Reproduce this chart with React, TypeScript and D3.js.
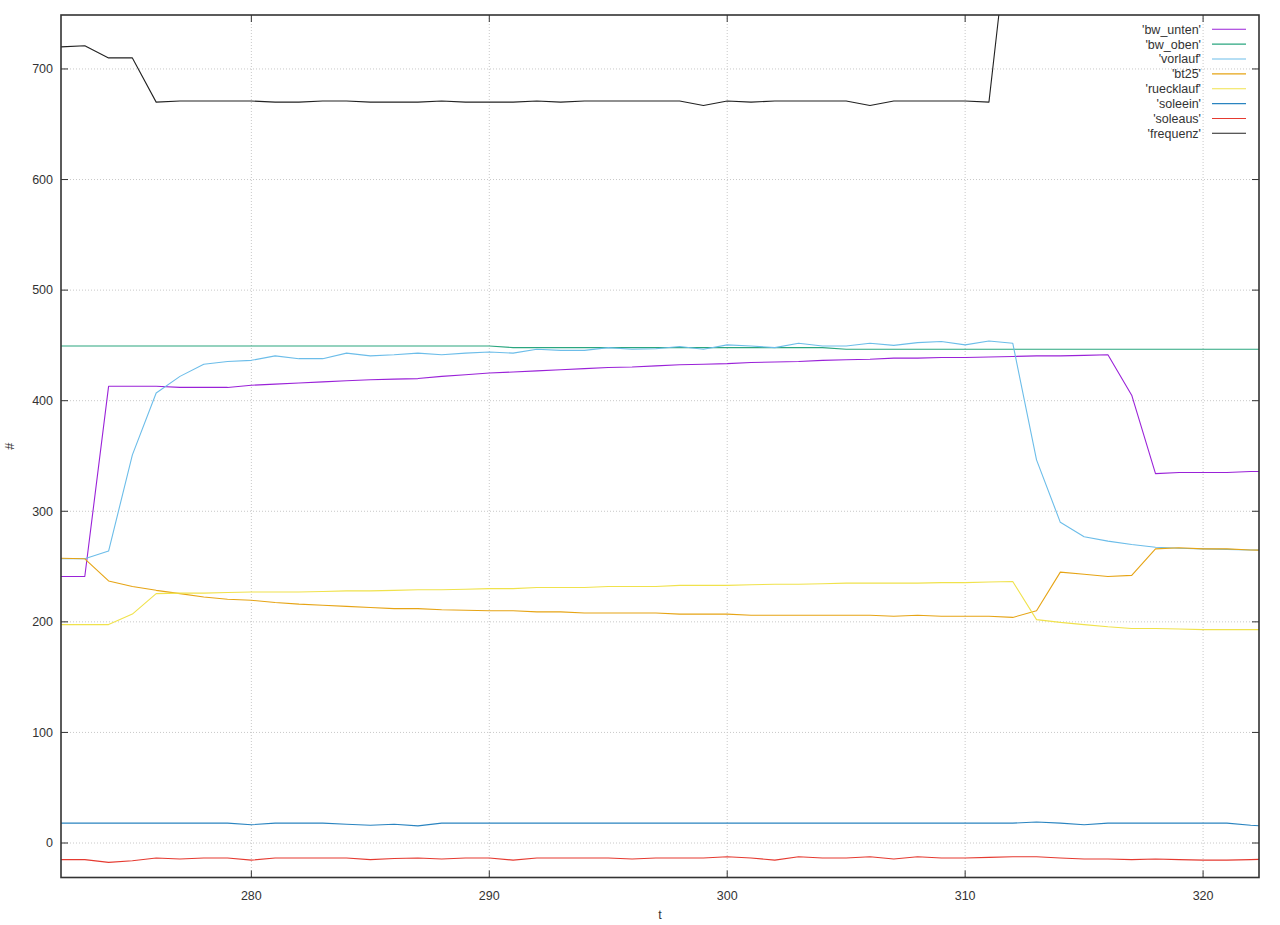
import * as d3 from 'd3';
import { useEffect } from 'react';

// sample times
const tValues = d3.range(272, 324);

const bwUnten = [
    241, 241, 413, 413, 413, 412, 412, 412, 414, 415, 416, 417, 418, 419, 419.5, 420, 422, 423.5, 425, 426, 427, 428, 429, 430,
    430.5, 431.5, 432.5, 433, 433.5, 434.5, 435, 435.5, 436.5, 437, 437.5, 438.5, 438.5, 439, 439, 439.5, 440, 440.5, 440.5, 441,
    441.5, 405, 334, 335, 335, 335, 336, 336,
];
const bwOben = [
    449.5, 449.5, 449.5, 449.5, 449.5, 449.5, 449.5, 449.5, 449.5, 449.5, 449.5, 449.5, 449.5, 449.5, 449.5, 449.5, 449.5, 449.5,
    449.5, 448, 448, 448, 448, 448, 448, 448, 448, 448, 448, 448, 448, 448, 448, 446.5, 446.5, 446.5, 446.5, 446.5, 446.5, 446.5,
    446.5, 446.5, 446.5, 446.5, 446.5, 446.5, 446.5, 446.5, 446.5, 446.5, 446.5, 446.5,
];
const vorlauf = [
    257, 257, 264, 351, 407, 422, 433, 435.5, 436.5, 440.5, 438, 438, 443, 440.5, 441.5, 443, 441.5, 443, 444, 443, 446.5, 445.5,
    445.5, 448, 446.5, 447, 449, 446.5, 450.5, 449.5, 448, 452, 449.5, 449.5, 452, 450, 452.5, 453.5, 450.5, 454, 452, 346.5, 290,
    277, 273, 270, 267.5, 266.5, 266, 265.5, 265, 265,
];
const bt25 = [
    257.5, 257, 237, 232, 228.5, 225.5, 222.5, 220.5, 219.5, 217.5, 216, 215, 214, 213, 212, 212, 211, 210.5, 210, 210, 209, 209,
    208, 208, 208, 208, 207, 207, 207, 206, 206, 206, 206, 206, 206, 205, 206, 205, 205, 205, 204, 210, 245, 243, 241, 242, 266,
    267, 266, 266, 265, 264.5,
];
const ruecklauf = [
    197.5, 197.5, 197.5, 207, 225.5, 226, 226, 226.5, 227, 227, 227, 227.5, 228, 228, 228.5, 229, 229, 229.5, 230, 230, 231, 231,
    231, 232, 232, 232, 233, 233, 233, 233.5, 234, 234, 234.5, 235, 235, 235, 235, 235.5, 235.5, 236, 236.5, 202, 199.5, 197.5,
    195.5, 194, 194, 193.5, 193, 193, 193, 193,
];
const soleein = [
    18, 18, 18, 18, 18, 18, 18, 18, 16.5, 18, 18, 18, 17, 16, 17, 15.5, 18, 18, 18, 18, 18, 18, 18, 18, 18, 18, 18, 18, 18, 18, 18,
    18, 18, 18, 18, 18, 18, 18, 18, 18, 18, 19, 18, 16.5, 18, 18, 18, 18, 18, 18, 16, 15,
];
const soleaus = [
    -15, -15, -17.5, -16, -13.5, -14.5, -13.5, -13.5, -15.5, -13.5, -13.5, -13.5, -13.5, -15, -14, -13.5, -14.5, -13.5, -13.5,
    -15.5, -13.5, -13.5, -13.5, -13.5, -14.5, -13.5, -13.5, -13.5, -12.5, -13.5, -15.5, -12.5, -13.5, -13.5, -12.5, -14.5, -12.5,
    -13.5, -13.5, -13, -12.5, -12.5, -13.5, -14.5, -14.5, -15, -14.5, -15, -15.5, -15.5, -15, -14.5,
];
const frequenz = [
    720, 721, 710, 710, 670, 671, 671, 671, 671, 670, 670, 671, 671, 670, 670, 670, 671, 670, 670, 670, 671, 670, 671, 671, 671,
    671, 671, 667, 671, 670, 671, 671, 671, 671, 667, 671, 671, 671, 671, 670, 860, 860, 860, 860, 860, 860, 860, 860, 860, 860,
    860, 860,
];

const seriesNames = ["'bw_unten'", "'bw_oben'", "'vorlauf'", "'bt25'", "'ruecklauf'", "'soleein'", "'soleaus'", "'frequenz'"];
const seriesValues = [bwUnten, bwOben, vorlauf, bt25, ruecklauf, soleein, soleaus, frequenz];
const colors = ['#9a22d8', '#2aa67f', '#6cbde9', '#e6a415', '#f0e24c', '#2a84c0', '#e53a30', '#222222'];

const xTicks = [280, 290, 300, 310, 320];
const yTicks = [0, 100, 200, 300, 400, 500, 600, 700];

const width = 1280;
const height = 925;
const margins = { left: 61, right: 21, top: 15, bottom: 47.5 };
const font = "'Liberation Sans', Arial, sans-serif";

export default function App() {
    useEffect(() => {
        document.body.style.margin = '0';
    }, []);

    const xScale = d3
        .scaleLinear()
        .domain([272, 322.35])
        .range([margins.left, width - margins.right]);
    const yScale = d3
        .scaleLinear()
        .domain([-31.2, 748.8])
        .range([height - margins.bottom, margins.top]);

    const x0 = margins.left;
    const x1 = width - margins.right;
    const y0 = height - margins.bottom;
    const y1 = margins.top;

    const line = d3
        .line<[number, number]>()
        .x((d) => xScale(d[0]))
        .y((d) => yScale(d[1]));

    return (
        <svg width={width} height={height} style={{ display: 'block', background: '#fff' }} fontFamily={font}>
            <defs>
                <clipPath id='plot'>
                    <rect x={x0} y={y1} width={x1 - x0} height={y0 - y1} />
                </clipPath>
            </defs>

            {/* grid */}
            {yTicks.map((v) => (
                <line key={'gy' + v} x1={x0} x2={x1} y1={yScale(v)} y2={yScale(v)} stroke='#c8c8c8' strokeDasharray='1,2' />
            ))}
            {xTicks.map((v) => (
                <line key={'gx' + v} x1={xScale(v)} x2={xScale(v)} y1={y1} y2={y0} stroke='#c8c8c8' strokeDasharray='1,2' />
            ))}

            {/* data */}
            <g clipPath='url(#plot)'>
                {seriesValues.map((vals, i) => (
                    <path
                        key={seriesNames[i]}
                        d={line(tValues.map((t, j) => [t, vals[j]] as [number, number])) ?? ''}
                        fill='none'
                        stroke={colors[i]}
                        strokeWidth={1.1}
                        strokeLinejoin='round'
                    />
                ))}
            </g>

            {/* ticks */}
            {yTicks.map((v) => (
                <g key={'ty' + v} stroke='#333'>
                    <line x1={x0} x2={x0 + 7} y1={yScale(v)} y2={yScale(v)} />
                    <line x1={x1} x2={x1 - 7} y1={yScale(v)} y2={yScale(v)} />
                </g>
            ))}
            {xTicks.map((v) => (
                <g key={'tx' + v} stroke='#333'>
                    <line x1={xScale(v)} x2={xScale(v)} y1={y0} y2={y0 - 7} />
                    <line x1={xScale(v)} x2={xScale(v)} y1={y1} y2={y1 + 7} />
                </g>
            ))}

            <rect x={x0} y={y1} width={x1 - x0} height={y0 - y1} fill='none' stroke='#333' strokeWidth={1.6} />

            {/* tick labels */}
            {yTicks.map((v) => (
                <text key={'ly' + v} x={x0 - 8} y={yScale(v)} dy='0.35em' textAnchor='end' fontSize={12.5} fill='#333'>
                    {v}
                </text>
            ))}
            {xTicks.map((v) => (
                <text key={'lx' + v} x={xScale(v)} y={y0 + 18} dy='0.35em' textAnchor='middle' fontSize={12.5} fill='#333'>
                    {v}
                </text>
            ))}

            <text x={(x0 + x1) / 2} y={915} dy='0.35em' textAnchor='middle' fontSize={12.5} fill='#333'>
                t
            </text>
            <text transform={`translate(10, ${(y0 + y1) / 2}) rotate(-90)`} dy='0.35em' textAnchor='middle' fontSize={12.5} fill='#333'>
                #
            </text>

            {/* legend */}
            {seriesNames.map((name, i) => (
                <g key={'lg' + name} transform={`translate(0, ${29.3 + i * 14.86})`}>
                    <text x={1201} dy='0.35em' textAnchor='end' fontSize={12.5} fill='#333'>
                        {name}
                    </text>
                    <line x1={1212} x2={1246} stroke={colors[i]} strokeWidth={1.1} />
                </g>
            ))}
        </svg>
    );
}
